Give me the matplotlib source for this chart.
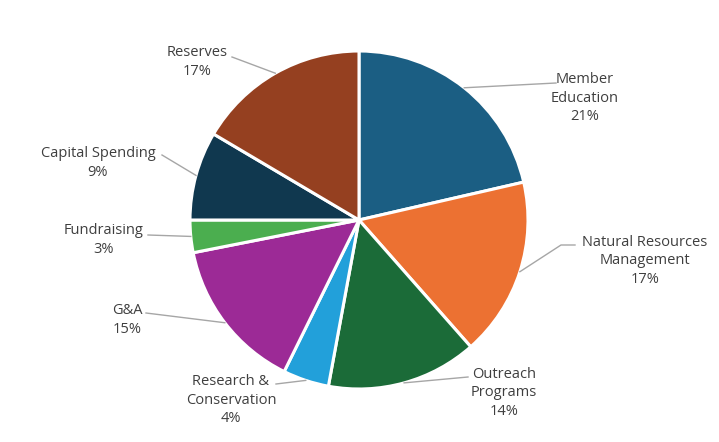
import numpy as np
import matplotlib
matplotlib.use('Agg')
import matplotlib.pyplot as plt

# budget split, clockwise from 12 o'clock
labels = ['Member\nEducation', 'Natural Resources\nManagement', 'Outreach\nPrograms',
          'Research &\nConservation', 'G&A', 'Fundraising', 'Capital Spending', 'Reserves']
shares = [21.4, 17.1, 14.4, 4.4, 14.6, 3.1, 8.5, 16.5]
pct_labels = ['21%', '17%', '14%', '4%', '15%', '3%', '9%', '17%']
colors = ['#1B5E83', '#EC7132', '#1B6B38', '#22A0DA', '#9C2A96', '#4BAE4F', '#10384F', '#954020']

# label layout in pixels (text centre, leader start)
label_pos = [(585, 98), (645, 261), (504, 393), (231, 400), (127, 320), (104, 240), (98, 163), (197, 62)]
leader_start = [(556, 83), (575, 245), (468, 377), (276, 384), (146, 313), (148, 235), (162, 155), (232, 57)]

W, H = 719, 442
cx, cy, r = 359, 220, 169

plt.rcParams['font.family'] = ['Open Sans', 'DejaVu Sans']
fig = plt.figure(figsize=(W / 100, H / 100), dpi=100)
ax = fig.add_axes([0, 0, 1, 1])

wedges, _ = ax.pie(shares, colors=colors, startangle=90, counterclock=False,
                   center=(cx, H - cy), radius=r,
                   wedgeprops=dict(edgecolor='white', linewidth=2.2))
ax.set_xlim(0, W)
ax.set_ylim(0, H)
ax.set_aspect('equal')
ax.axis('off')

for i, w in enumerate(wedges):
    mid = np.deg2rad((w.theta1 + w.theta2) / 2)
    ex = cx + r * np.cos(mid)
    ey = (H - cy) + r * np.sin(mid)
    sx, sy = leader_start[i]
    tx, ty = label_pos[i]
    ax.text(tx, H - ty, labels[i] + '\n' + pct_labels[i], ha='center', va='center',
            fontsize=10.5, color='#3F3F3F', linespacing=1.35)
    if i == 1:
        ax.plot([sx, sx - 14, ex], [H - sy, H - sy, ey], color='#A6A6A6', lw=1)
    else:
        ax.plot([sx, ex], [H - sy, ey], color='#A6A6A6', lw=1)

fig.savefig('out.png', dpi=100)
